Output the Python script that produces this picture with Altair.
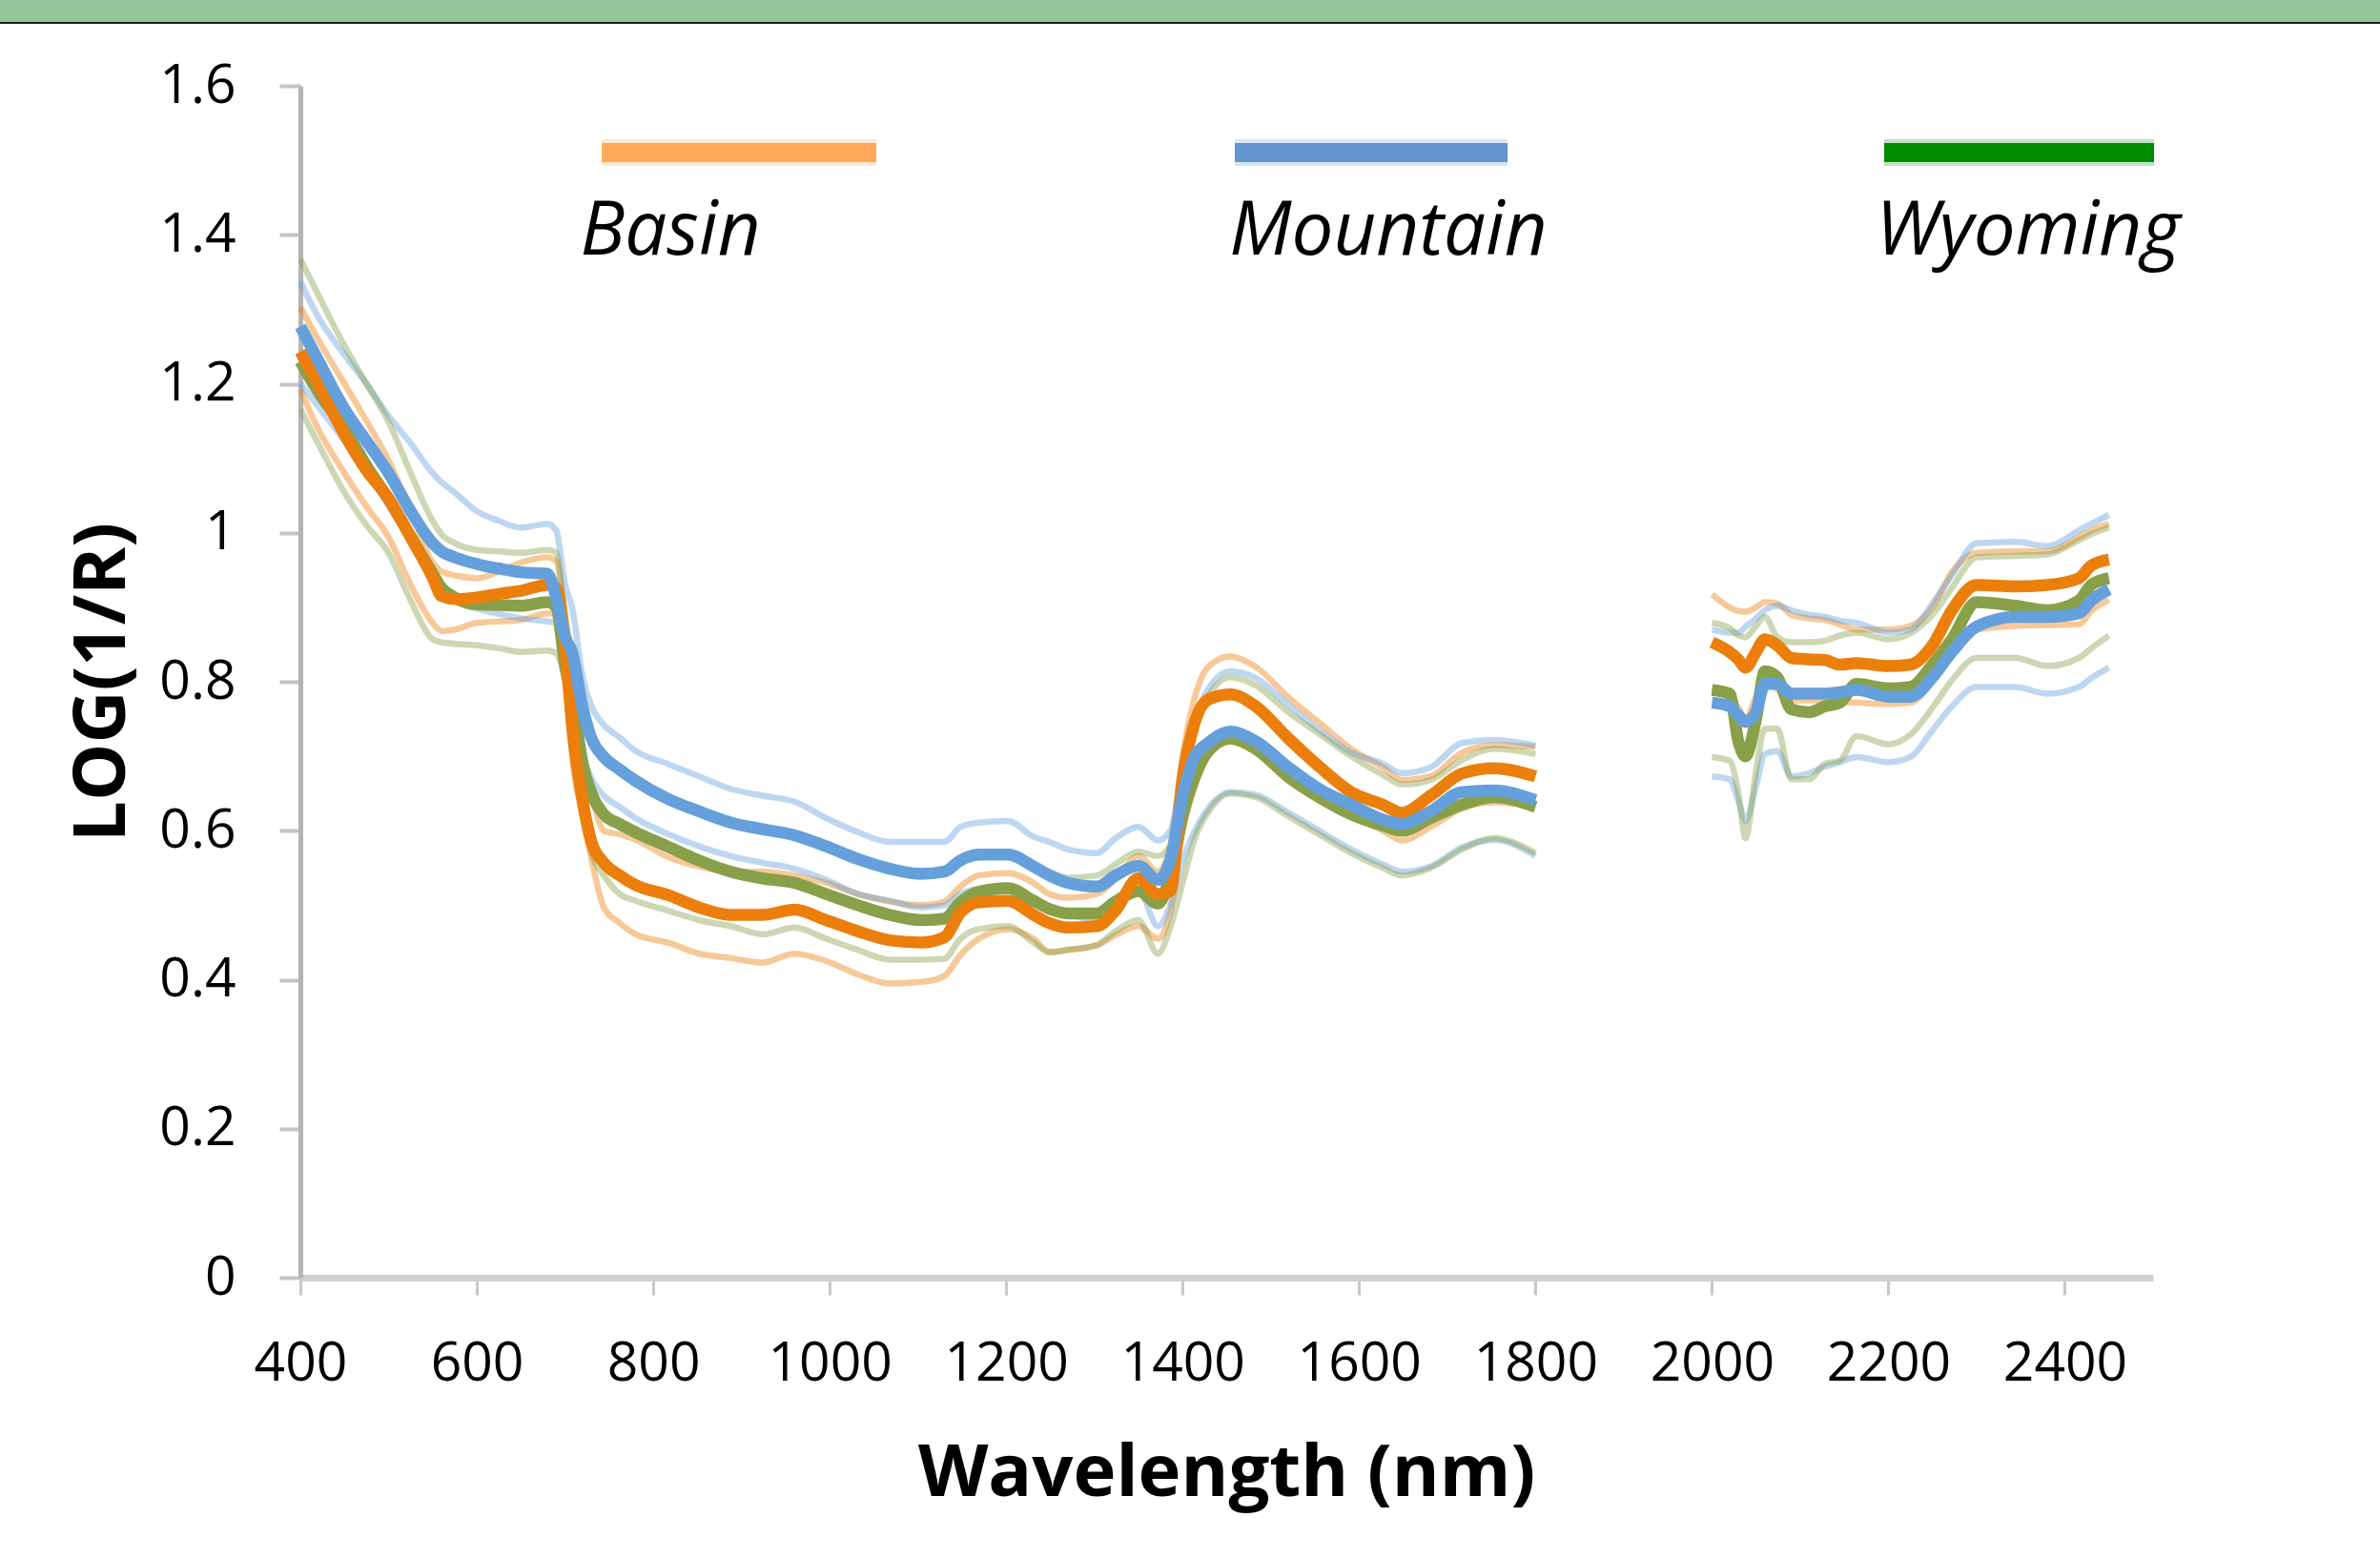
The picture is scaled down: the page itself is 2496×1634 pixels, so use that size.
import altair as alt
import pandas as pd

# ---------------- data ----------------
GROUPS = ["Basin", "Mountain", "Wyoming"]
X_TICKS = [400, 600, 800, 1000, 1200, 1400, 1600, 1800, 2000, 2200, 2400]
Y_TICKS = [0, 0.2, 0.4, 0.6, 0.8, 1.0, 1.2, 1.4, 1.6]

WL_1 = [400, 420, 450, 475, 500, 525, 550, 560, 575, 600, 625, 650, 680, 690, 700,
        708, 720, 730, 744, 762, 780, 816, 852, 888, 924, 960, 996, 1032, 1068, 1104,
        1130, 1148, 1169, 1202, 1231, 1249, 1270, 1303, 1324, 1350, 1372, 1386, 1400,
        1414, 1429, 1454, 1483, 1519, 1555, 1591, 1627, 1649, 1681, 1717, 1753, 1800]
WL_2 = [2000, 2020, 2030, 2038, 2050, 2060, 2074, 2090, 2110, 2128, 2145, 2164, 2200,
        2225, 2250, 2272, 2300, 2344, 2380, 2416, 2430, 2450]

BASIN_MEAN_1 = [1.243, 1.200, 1.132, 1.084, 1.046, 0.994, 0.940, 0.915, 0.911, 0.913,
                0.918, 0.922, 0.930, 0.926, 0.850, 0.740, 0.640, 0.585, 0.557, 0.540,
                0.527, 0.514, 0.497, 0.487, 0.487, 0.494, 0.480, 0.465, 0.453, 0.450,
                0.457, 0.490, 0.504, 0.506, 0.487, 0.476, 0.470, 0.472, 0.493, 0.536,
                0.515, 0.519, 0.670, 0.746, 0.776, 0.783, 0.767, 0.725, 0.686, 0.652,
                0.635, 0.624, 0.647, 0.677, 0.684, 0.673]
BASIN_MEAN_2 = [0.853, 0.840, 0.830, 0.819, 0.840, 0.857, 0.849, 0.832, 0.830, 0.829,
                0.823, 0.825, 0.821, 0.823, 0.849, 0.896, 0.930, 0.928, 0.930, 0.939,
                0.956, 0.964]
BASIN_PLUS_1 = [1.303, 1.260, 1.200, 1.150, 1.097, 1.030, 0.960, 0.948, 0.943, 0.939,
                0.948, 0.960, 0.967, 0.962, 0.887, 0.800, 0.700, 0.650, 0.600, 0.595,
                0.588, 0.565, 0.552, 0.545, 0.545, 0.540, 0.530, 0.515, 0.505, 0.500,
                0.505, 0.525, 0.540, 0.543, 0.530, 0.515, 0.510, 0.515, 0.535, 0.566,
                0.545, 0.580, 0.700, 0.780, 0.820, 0.834, 0.820, 0.780, 0.745, 0.710,
                0.685, 0.668, 0.673, 0.705, 0.715, 0.713]
BASIN_PLUS_2 = [0.917, 0.900, 0.895, 0.894, 0.900, 0.907, 0.905, 0.890, 0.885, 0.883,
                0.877, 0.870, 0.870, 0.875, 0.900, 0.947, 0.973, 0.975, 0.975, 0.994,
                1.003, 1.012]
BASIN_MINUS_1 = [1.192, 1.140, 1.080, 1.035, 0.994, 0.930, 0.879, 0.868, 0.870, 0.879,
                 0.881, 0.883, 0.892, 0.890, 0.823, 0.700, 0.620, 0.562, 0.497, 0.476,
                 0.461, 0.450, 0.435, 0.429, 0.423, 0.435, 0.425, 0.407, 0.395, 0.397,
                 0.405, 0.433, 0.455, 0.468, 0.455, 0.437, 0.440, 0.446, 0.460, 0.472,
                 0.455, 0.490, 0.600, 0.660, 0.700, 0.720, 0.712, 0.670, 0.640, 0.620,
                 0.600, 0.587, 0.605, 0.630, 0.638, 0.632]
BASIN_MINUS_2 = [0.790, 0.780, 0.765, 0.750, 0.780, 0.800, 0.790, 0.775, 0.775, 0.775,
                 0.773, 0.772, 0.770, 0.772, 0.800, 0.840, 0.870, 0.875, 0.876, 0.877,
                 0.895, 0.910]

MOUNTAIN_MEAN_1 = [1.277, 1.232, 1.166, 1.123, 1.080, 1.029, 0.986, 0.975, 0.967, 0.958,
                   0.952, 0.947, 0.945, 0.913, 0.860, 0.840, 0.765, 0.724, 0.699, 0.682,
                   0.667, 0.643, 0.626, 0.611, 0.602, 0.594, 0.579, 0.562, 0.549, 0.542,
                   0.545, 0.560, 0.568, 0.568, 0.552, 0.540, 0.530, 0.525, 0.540, 0.553,
                   0.534, 0.560, 0.647, 0.700, 0.718, 0.733, 0.720, 0.686, 0.656, 0.635,
                   0.615, 0.609, 0.626, 0.652, 0.654, 0.641]
MOUNTAIN_MEAN_2 = [0.772, 0.767, 0.755, 0.746, 0.760, 0.797, 0.797, 0.784, 0.784, 0.784,
                   0.786, 0.789, 0.780, 0.780, 0.806, 0.840, 0.874, 0.887, 0.887, 0.892,
                   0.909, 0.924]
MOUNTAIN_PLUS_1 = [1.337, 1.290, 1.239, 1.200, 1.157, 1.120, 1.080, 1.068, 1.054, 1.029,
                   1.016, 1.007, 1.012, 1.003, 0.930, 0.900, 0.806, 0.767, 0.742, 0.725,
                   0.707, 0.690, 0.673, 0.656, 0.647, 0.639, 0.617, 0.598, 0.585, 0.585,
                   0.585, 0.605, 0.611, 0.613, 0.592, 0.585, 0.575, 0.570, 0.590, 0.605,
                   0.587, 0.600, 0.680, 0.750, 0.790, 0.814, 0.805, 0.770, 0.735, 0.705,
                   0.690, 0.677, 0.685, 0.718, 0.722, 0.714]
MOUNTAIN_PLUS_2 = [0.870, 0.866, 0.866, 0.874, 0.885, 0.896, 0.902, 0.896, 0.890, 0.887,
                   0.882, 0.879, 0.866, 0.870, 0.905, 0.943, 0.986, 0.988, 0.982, 1.003,
                   1.012, 1.024]
MOUNTAIN_MINUS_1 = [1.200, 1.170, 1.123, 1.080, 1.037, 0.990, 0.939, 0.925, 0.909, 0.898,
                    0.891, 0.885, 0.881, 0.879, 0.823, 0.780, 0.700, 0.670, 0.647, 0.632,
                    0.617, 0.596, 0.579, 0.566, 0.557, 0.549, 0.534, 0.515, 0.506, 0.497,
                    0.500, 0.515, 0.522, 0.524, 0.505, 0.495, 0.488, 0.480, 0.500, 0.520,
                    0.472, 0.500, 0.560, 0.600, 0.630, 0.652, 0.648, 0.625, 0.600, 0.575,
                    0.555, 0.545, 0.552, 0.578, 0.588, 0.566]
MOUNTAIN_MINUS_2 = [0.673, 0.669, 0.640, 0.613, 0.660, 0.703, 0.707, 0.673, 0.677, 0.686,
                    0.692, 0.699, 0.692, 0.699, 0.735, 0.767, 0.793, 0.793, 0.784, 0.793,
                    0.805, 0.819]

WYOMING_MEAN_1 = [1.230, 1.190, 1.140, 1.090, 1.045, 0.995, 0.945, 0.926, 0.913, 0.904,
                  0.903, 0.902, 0.907, 0.900, 0.823, 0.780, 0.690, 0.650, 0.622, 0.609,
                  0.598, 0.579, 0.560, 0.545, 0.536, 0.530, 0.515, 0.500, 0.487, 0.480,
                  0.482, 0.504, 0.518, 0.523, 0.506, 0.495, 0.489, 0.489, 0.505, 0.519,
                  0.502, 0.540, 0.620, 0.673, 0.707, 0.724, 0.710, 0.673, 0.645, 0.622,
                  0.607, 0.600, 0.617, 0.635, 0.645, 0.632]
WYOMING_MEAN_2 = [0.789, 0.784, 0.720, 0.700, 0.750, 0.814, 0.806, 0.763, 0.759, 0.767,
                  0.772, 0.797, 0.791, 0.793, 0.823, 0.857, 0.907, 0.902, 0.896, 0.909,
                  0.930, 0.939]
WYOMING_PLUS_1 = [1.367, 1.320, 1.251, 1.200, 1.149, 1.080, 1.016, 0.998, 0.986, 0.977,
                  0.975, 0.973, 0.977, 0.973, 0.887, 0.840, 0.770, 0.730, 0.705, 0.687,
                  0.672, 0.647, 0.628, 0.613, 0.603, 0.595, 0.580, 0.563, 0.550, 0.543,
                  0.546, 0.562, 0.572, 0.572, 0.556, 0.545, 0.537, 0.540, 0.555, 0.572,
                  0.566, 0.580, 0.660, 0.740, 0.780, 0.806, 0.795, 0.760, 0.730, 0.700,
                  0.675, 0.662, 0.668, 0.695, 0.710, 0.703]
WYOMING_PLUS_2 = [0.879, 0.872, 0.862, 0.860, 0.875, 0.887, 0.860, 0.853, 0.853, 0.855,
                  0.862, 0.866, 0.857, 0.865, 0.890, 0.926, 0.967, 0.969, 0.971, 0.990,
                  0.998, 1.007]
WYOMING_MINUS_1 = [1.166, 1.120, 1.054, 1.010, 0.973, 0.909, 0.857, 0.853, 0.851, 0.849,
                   0.845, 0.840, 0.842, 0.838, 0.800, 0.740, 0.620, 0.570, 0.540, 0.515,
                   0.506, 0.493, 0.480, 0.472, 0.461, 0.470, 0.455, 0.440, 0.427, 0.427,
                   0.428, 0.455, 0.468, 0.472, 0.450, 0.437, 0.440, 0.447, 0.465, 0.480,
                   0.435, 0.470, 0.530, 0.590, 0.625, 0.650, 0.645, 0.620, 0.595, 0.570,
                   0.550, 0.540, 0.550, 0.575, 0.590, 0.570]
WYOMING_MINUS_2 = [0.699, 0.694, 0.650, 0.590, 0.680, 0.737, 0.737, 0.669, 0.669, 0.690,
                   0.694, 0.727, 0.716, 0.729, 0.765, 0.802, 0.832, 0.832, 0.821, 0.832,
                   0.845, 0.862]

SERIES = {
    ("Basin", "plus"): (BASIN_PLUS_1, BASIN_PLUS_2),
    ("Basin", "minus"): (BASIN_MINUS_1, BASIN_MINUS_2),
    ("Basin", "mean"): (BASIN_MEAN_1, BASIN_MEAN_2),
    ("Mountain", "plus"): (MOUNTAIN_PLUS_1, MOUNTAIN_PLUS_2),
    ("Mountain", "minus"): (MOUNTAIN_MINUS_1, MOUNTAIN_MINUS_2),
    ("Mountain", "mean"): (MOUNTAIN_MEAN_1, MOUNTAIN_MEAN_2),
    ("Wyoming", "plus"): (WYOMING_PLUS_1, WYOMING_PLUS_2),
    ("Wyoming", "minus"): (WYOMING_MINUS_1, WYOMING_MINUS_2),
    ("Wyoming", "mean"): (WYOMING_MEAN_1, WYOMING_MEAN_2),
}

rows = []
for (grp, kind), (s1, s2) in SERIES.items():
    for seg, (wls, vals) in enumerate([(WL_1, s1), (WL_2, s2)]):
        for w, v in zip(wls, vals):
            rows.append({"wl": w, "value": v, "group": grp, "kind": kind,
                         "line": f"{grp}-{kind}-{seg}"})
df = pd.DataFrame(rows)

# ---------------- styling ----------------
LINE_COLOR = {"Basin": "#EC7E0C", "Mountain": "#65A0DC", "Wyoming": "#89A04A"}
LEGEND_COLOR = {"Basin": "#FFA858", "Mountain": "#6296CC", "Wyoming": "#008C00"}
FONT = "Open Sans"

W, H = 1943, 1250
PAD = {"left": 315, "top": 90, "right": 238, "bottom": 294}

x_enc = alt.X(
    "wl:Q",
    scale=alt.Scale(domain=[400, 2500], nice=False, zero=False),
    axis=alt.Axis(
        values=X_TICKS, title="Wavelength (nm)", grid=False,
        domainColor="#D0D0D0", domainWidth=7,
        tickColor="#C8C8C8", tickWidth=3, tickSize=18,
        labelFont=FONT, labelFontSize=57, labelColor="#000000", labelPadding=44,
        labelFlush=False, labelOverlap=False, format="d",
        titleFont=FONT, titleFontWeight="bold", titleFontSize=76, titleColor="#000000",
        titleX=971, titleY=228, titleBaseline="alphabetic", titleAlign="center",
    ),
)
y_enc = alt.Y(
    "value:Q",
    scale=alt.Scale(domain=[0, 1.6], nice=False, zero=True),
    axis=alt.Axis(
        values=Y_TICKS, format=".1~f", title="LOG(1/R)", grid=False,
        domainColor="#B4B4B4", domainWidth=5,
        tickColor="#C4C4C4", tickWidth=4, tickSize=22,
        labelFont=FONT, labelFontSize=57, labelColor="#000000", labelPadding=46,
        titleFont=FONT, titleFontWeight="bold", titleFontSize=76, titleColor="#000000",
        titleAngle=270, titleX=-185, titleY=625, titleBaseline="alphabetic",
        titleAlign="center",
    ),
)

layers = []

# header band (decoration)
one = alt.Data(values=[{"k": 1}])
layers.append(alt.Chart(one).mark_rect(color="#94C59C").encode(
    x=alt.value(-PAD["left"]), x2=alt.value(W + PAD["right"]),
    y=alt.value(-PAD["top"]), y2=alt.value(-PAD["top"] + 23)))
layers.append(alt.Chart(one).mark_rect(color="#1A1A1A").encode(
    x=alt.value(-PAD["left"]), x2=alt.value(W + PAD["right"]),
    y=alt.value(-PAD["top"] + 23), y2=alt.value(-PAD["top"] + 25)))

# SD lines (thin, translucent)
for grp in GROUPS:
    for kind in ["plus", "minus"]:
        sub = df[(df.group == grp) & (df.kind == kind)]
        layers.append(alt.Chart(sub).mark_line(
            strokeWidth=6.5, color=LINE_COLOR[grp], strokeOpacity=0.42,
            strokeJoin="round", interpolate="monotone").encode(
            x=x_enc, y=y_enc, detail="line:N"))

# mean lines (thick)
for grp in ["Wyoming", "Basin", "Mountain"]:
    sub = df[(df.group == grp) & (df.kind == "mean")]
    layers.append(alt.Chart(sub).mark_line(
        strokeWidth=12.5, color=LINE_COLOR[grp], strokeJoin="round",
        interpolate="monotone").encode(
        x=x_enc, y=y_enc, detail="line:N"))

# custom legend
LEG_BAR = {"Basin": (316, 604), "Mountain": (980, 1266), "Wyoming": (1661, 1944)}
LEG_TXT = {"Basin": 388, "Mountain": 1141, "Wyoming": 1812}
for grp in GROUPS:
    d = alt.Data(values=[{"name": grp}])
    x0, x1 = LEG_BAR[grp]
    layers.append(alt.Chart(d).mark_rule(
        strokeWidth=28, color=LEGEND_COLOR[grp], opacity=0.25).encode(
        x=alt.value(x0), x2=alt.value(x1), y=alt.value(70)))
    layers.append(alt.Chart(d).mark_rule(
        strokeWidth=20, color=LEGEND_COLOR[grp]).encode(
        x=alt.value(x0), x2=alt.value(x1), y=alt.value(70)))
    layers.append(alt.Chart(d).mark_text(
        font=FONT, fontStyle="italic", fontSize=78, color="#000000",
        align="center", baseline="alphabetic").encode(
        x=alt.value(LEG_TXT[grp]), y=alt.value(177), text="name:N"))

chart = alt.layer(*layers).properties(
    width=W, height=H, padding=PAD,
    autosize=alt.AutoSizeParams(type="none"),
    background="#FFFFFF",
).configure_view(strokeWidth=0)

chart.save("out.html", embed_options={"renderer": "svg", "actions": False})
